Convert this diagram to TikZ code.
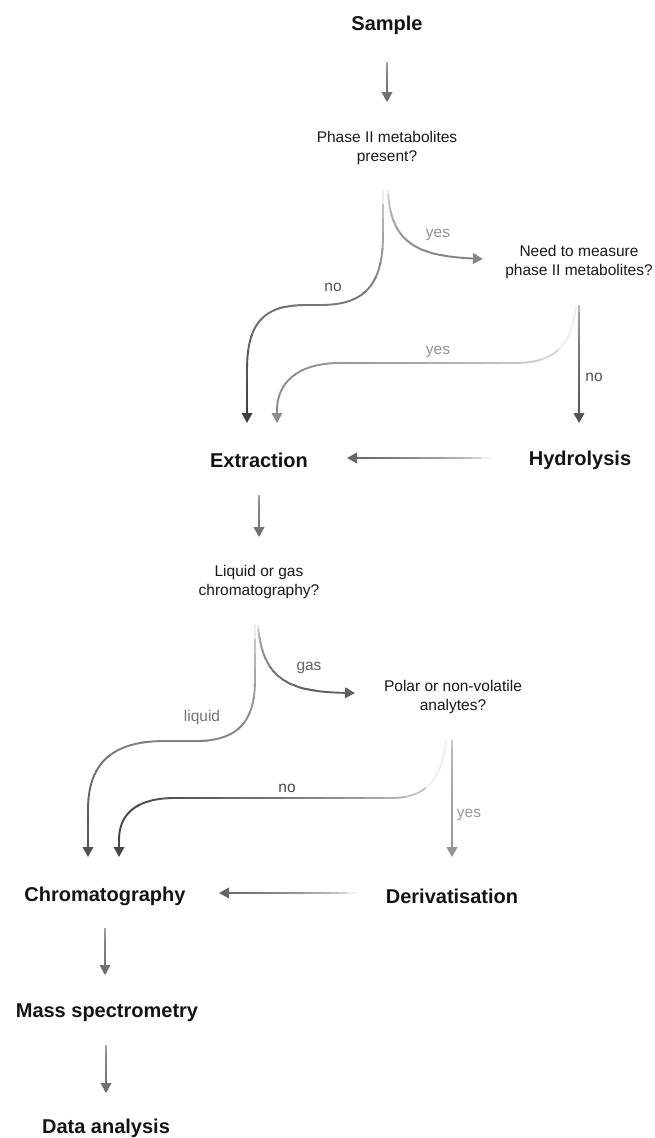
\documentclass[tikz,border=0pt]{standalone}
\usepackage{fontspec}
\setmainfont{Liberation Sans}
\usetikzlibrary{arrows.meta}
\tikzset{
 conn/.style={line width=1.9pt, -{Triangle[width=10.5pt,length=10pt]}},
 title/.style={font=\fontsize{20}{24}\selectfont\bfseries, text=black!92, inner sep=0pt},
 question/.style={font=\fontsize{15.5}{18.3}\selectfont, align=center, text=black!90, inner sep=0pt},
 lbl/.style={font=\fontsize{15.5}{18}\selectfont, inner sep=0pt},
}
% gradient along y: #1 y start, #2 y end, #3 start black%, #4 end black%, #5 path
\newcommand{\ygrad}[5]{%
  \foreach \i in {0,...,15}{%
    \pgfmathsetmacro\ya{\i==0 ? #1-(#2-#1)*0.15 : #1+(#2-#1)*\i/16}%
    \pgfmathsetmacro\yb{\i==15 ? #2+(#2-#1)*0.15 : #1+(#2-#1)*(\i+1)/16+(#2-#1)*0.004}%
    \pgfmathtruncatemacro\pc{#3+(#4-#3)*sqrt(\i/15)}%
    \begin{scope}
      \clip (-5,\ya) rectangle (660,\yb);
      \draw[conn,draw=black!\pc] #5;
    \end{scope}
  }}
% gradient along x
\newcommand{\xgrad}[5]{%
  \foreach \i in {0,...,15}{%
    \pgfmathsetmacro\xa{\i==0 ? #1-(#2-#1)*0.15 : #1+(#2-#1)*\i/16}%
    \pgfmathsetmacro\xb{\i==15 ? #2+(#2-#1)*0.15 : #1+(#2-#1)*(\i+1)/16+(#2-#1)*0.004}%
    \pgfmathtruncatemacro\pc{#3+(#4-#3)*sqrt(\i/15)}%
    \begin{scope}
      \clip (\xa,-5) rectangle (\xb,1145);
      \draw[conn,draw=black!\pc] #5;
    \end{scope}
  }}
\begin{document}
\begin{tikzpicture}[x=1pt,y=-1pt]
\fill[white] (0,0) rectangle (654,1138);
\useasboundingbox (0,0) rectangle (654,1138);

% nodes
\node[title] (sample) at (387,25) {Sample};
\node[question] (q1) at (387,148) {Phase II metabolites\\present?};
\node[question] (q2) at (579,262) {Need to measure\\phase II metabolites?};
\node[title] (extraction) at (259,460) {Extraction};
\node[title] (hydrolysis) at (580,460) {Hydrolysis};
\node[question] (q3) at (259,582) {Liquid or gas\\chromatography?};
\node[question] (q4) at (453,697) {Polar or non-volatile\\analytes?};
\node[title] (chrom) at (105,896) {Chromatography};
\node[title] (deriv) at (452,896) {Derivatisation};
\node[title] (mass) at (107,1013) {Mass spectrometry};
\node[title] (data) at (106,1128) {Data analysis};

% connector end points
\coordinate (a1s) at (387,62);   \coordinate (a1e) at (387,102);
\coordinate (no1s) at (383,190); \coordinate (no1e) at (247,423);
\coordinate (yes1s) at (388,190); \coordinate (yes1e) at (483,259);
\coordinate (no2s) at (579,305); \coordinate (no2e) at (579,423);
\coordinate (yes2s) at (576,305); \coordinate (yes2e) at (277,423);
\coordinate (hes) at (490,458);  \coordinate (hee) at (347,458);
\coordinate (a2s) at (259,495);  \coordinate (a2e) at (259,537);
\coordinate (liqs) at (255,625); \coordinate (liqe) at (88,857);
\coordinate (gass) at (258,625); \coordinate (gase) at (355,693);
\coordinate (no3s) at (446,740); \coordinate (no3e) at (119,857);
\coordinate (yes3s) at (452,740); \coordinate (yes3e) at (452,857);
\coordinate (dcs) at (356,893);  \coordinate (dce) at (219,893);
\coordinate (a3s) at (105,928);  \coordinate (a3e) at (105,975);
\coordinate (a4s) at (106,1045); \coordinate (a4e) at (106,1093);

% straight arrows
\ygrad{62}{102}{35}{58}{(a1s) -- (a1e)}
\ygrad{495}{537}{35}{58}{(a2s) -- (a2e)}
\ygrad{928}{975}{35}{58}{(a3s) -- (a3e)}
\ygrad{1045}{1093}{35}{58}{(a4s) -- (a4e)}
\xgrad{490}{347}{6}{60}{(hes) -- (hee)}
\xgrad{356}{219}{6}{60}{(dcs) -- (dce)}

% decision 1
\ygrad{190}{423}{8}{75}{(no1s) -- ++(0,45) .. controls +(0,55) and +(40,0) .. ++(-63,70) -- ++(-15,0) .. controls +(-43,0) and +(0,-45) .. ++(-58,65) -- (no1e)}
\ygrad{190}{259}{8}{48}{(yes1s) .. controls +(2,55) and +(-63,-3) .. (yes1e)}
\ygrad{305}{423}{28}{68}{(no2s) -- (no2e)}
\xgrad{577}{277}{6}{45}{(yes2s) .. controls +(-4,45) and +(35,0) .. ++(-61,58) -- ++(-175,0) .. controls +(-45,0) and +(0,-25) .. ++(-63,47) -- (yes2e)}

% decision 2
\ygrad{625}{857}{8}{68}{(liqs) -- ++(0,55) .. controls +(0,45) and +(40,0) .. ++(-60,61) -- ++(-30,0) .. controls +(-55,0) and +(0,-45) .. ++(-77,69) -- (liqe)}
\ygrad{625}{693}{12}{62}{(gass) .. controls +(4,55) and +(-65,-1) .. (gase)}
\xgrad{446}{119}{6}{72}{(no3s) .. controls +(-4,45) and +(28,0) .. ++(-54,58) -- ++(-217,0) .. controls +(-40,0) and +(0,-25) .. ++(-56,42) -- (no3e)}
\ygrad{740}{857}{22}{42}{(yes3s) -- (yes3e)}

% labels
\node[lbl,text=black!68] at (333,287) {no};
\node[lbl,text=black!42] at (438,235) {yes};
\node[lbl,text=black!42] at (438,352) {yes};
\node[lbl,text=black!68] at (594,377) {no};
\node[lbl,text=black!60] at (309,668) {gas};
\node[lbl,text=black!55] at (202,717) {liquid};
\node[lbl,text=black!72] at (287,788) {no};
\node[lbl,text=black!40] at (469,815) {yes};
\end{tikzpicture}
\end{document}
